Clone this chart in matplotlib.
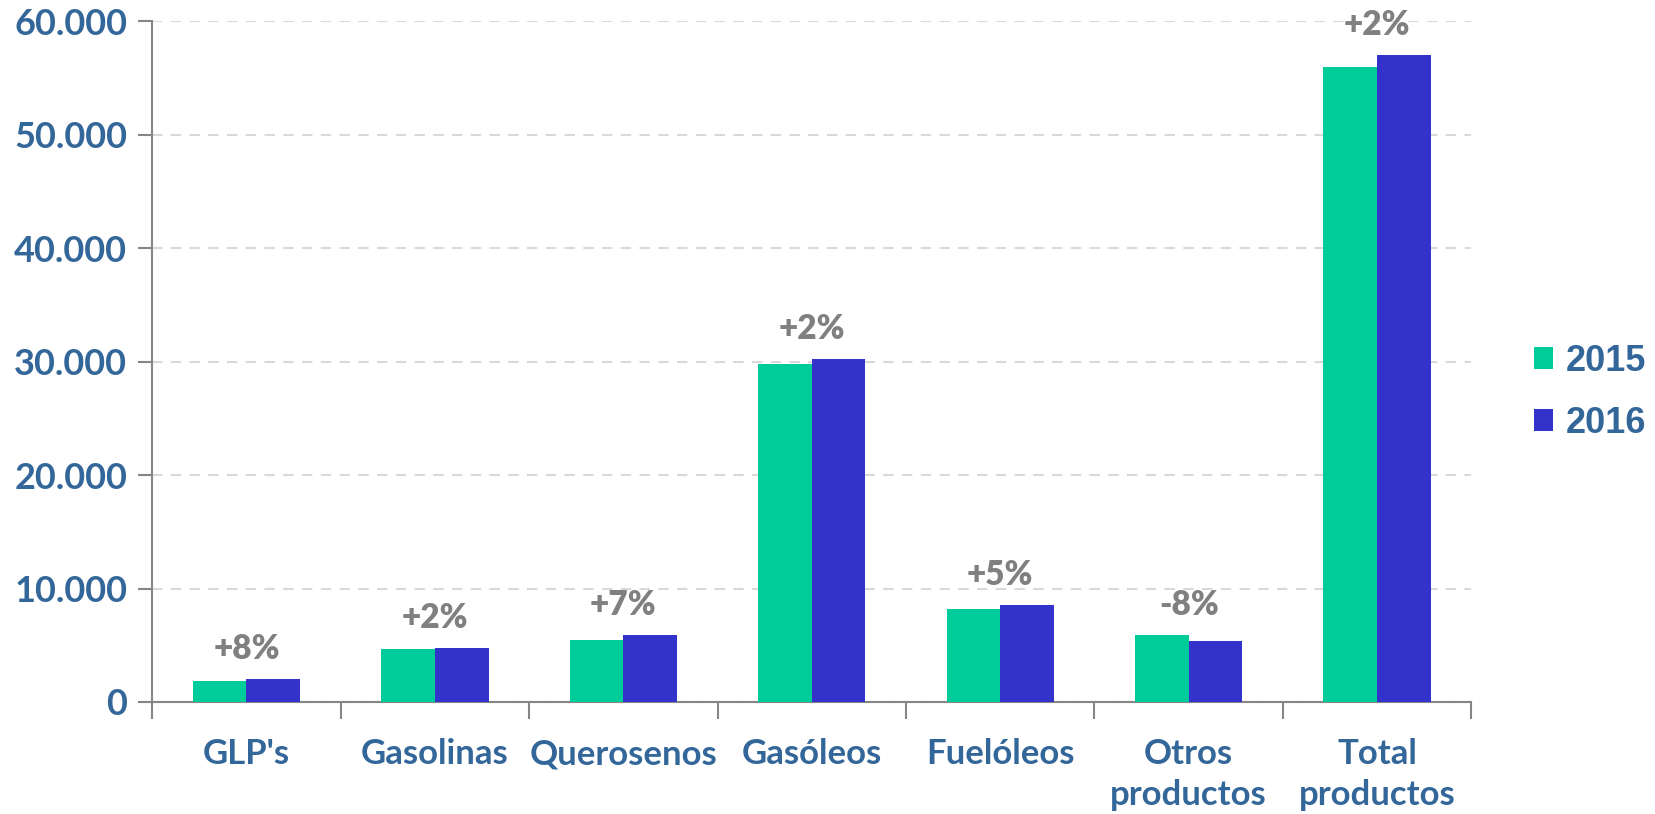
import matplotlib.pyplot as plt
import numpy as np

# data (kt)
categorias = ["GLP's", "Gasolinas", "Querosenos", "Gasóleos", "Fuelóleos",
              "Otros\nproductos", "Total\nproductos"]
v2015 = [1850, 4630, 5480, 29760, 8210, 5910, 56000]
v2016 = [2020, 4750, 5870, 30260, 8590, 5410, 57030]
variacion = ["+8%", "+2%", "+7%", "+2%", "+5%", "-8%", "+2%"]
yticks = [0, 10000, 20000, 30000, 40000, 50000, 60000]

verde = '#00CC99'
azul = '#3333CC'
azul_txt = '#336699'
gris = '#808080'

plt.rcParams['font.family'] = ['Lato', 'DejaVu Sans']

fig = plt.figure(figsize=(16.55, 8.14), dpi=100)
ax = fig.add_axes([0.092, 0.1376, 0.797, 0.8364])

x = np.arange(len(categorias))
w = 0.285
ax.bar(x - w/2, v2015, w, color=verde, label='2015', zorder=3)
ax.bar(x + w/2, v2016, w, color=azul, label='2016', zorder=3)

for i, txt in enumerate(variacion):
    top = max(v2015[i], v2016[i])
    ax.annotate(txt, (x[i], top), xytext=(0, 10), textcoords='offset points',
                ha='center', va='bottom', fontsize=24, fontweight='heavy',
                color=gris, zorder=4)

ax.set_xlim(-0.5, len(categorias) - 0.5)
ax.set_ylim(0, 60000)
ax.set_yticks(yticks)
ax.set_yticklabels([f'{v:,}'.replace(',', '.') for v in yticks])
ax.yaxis.grid(True, linestyle=(0, (5, 4)), color='#D9D9D9', linewidth=1.5, zorder=0)

# category separators as ticks, labels centred in between
ax.set_xticks(np.arange(len(categorias) + 1) - 0.5)
ax.set_xticklabels([])
ax.set_xticks(x, minor=True)
ax.set_xticklabels(categorias, minor=True)
ax.tick_params(axis='x', which='major', length=12, width=1.5, color='#868686')
ax.tick_params(axis='x', which='minor', length=0, pad=26, labelsize=25,
               labelcolor=azul_txt)
for lab in ax.get_xticklabels(minor=True):
    lab.set_fontweight('bold')
    lab.set_linespacing(1.35)
    lab.set_va('top')
ax.tick_params(axis='y', length=10, width=1.5, color='#868686', labelsize=26,
               labelcolor=azul_txt, pad=8)
for lab in ax.get_yticklabels():
    lab.set_fontweight('bold')

for s in ['top', 'right']:
    ax.spines[s].set_visible(False)
ax.spines['left'].set_color('#868686')
ax.spines['bottom'].set_color('#868686')
ax.spines['left'].set_linewidth(1.5)
ax.spines['bottom'].set_linewidth(1.5)

leg = ax.legend(loc='center left', bbox_to_anchor=(1.028, 0.455), frameon=False,
                prop={'family': 'Liberation Sans', 'weight': 'bold', 'size': 26},
                handlelength=0.55, handleheight=0.55, handletextpad=0.35,
                labelspacing=0.75, borderaxespad=0.3)
for t in leg.get_texts():
    t.set_color(azul_txt)

plt.savefig('out.png', dpi=100)
plt.close()
